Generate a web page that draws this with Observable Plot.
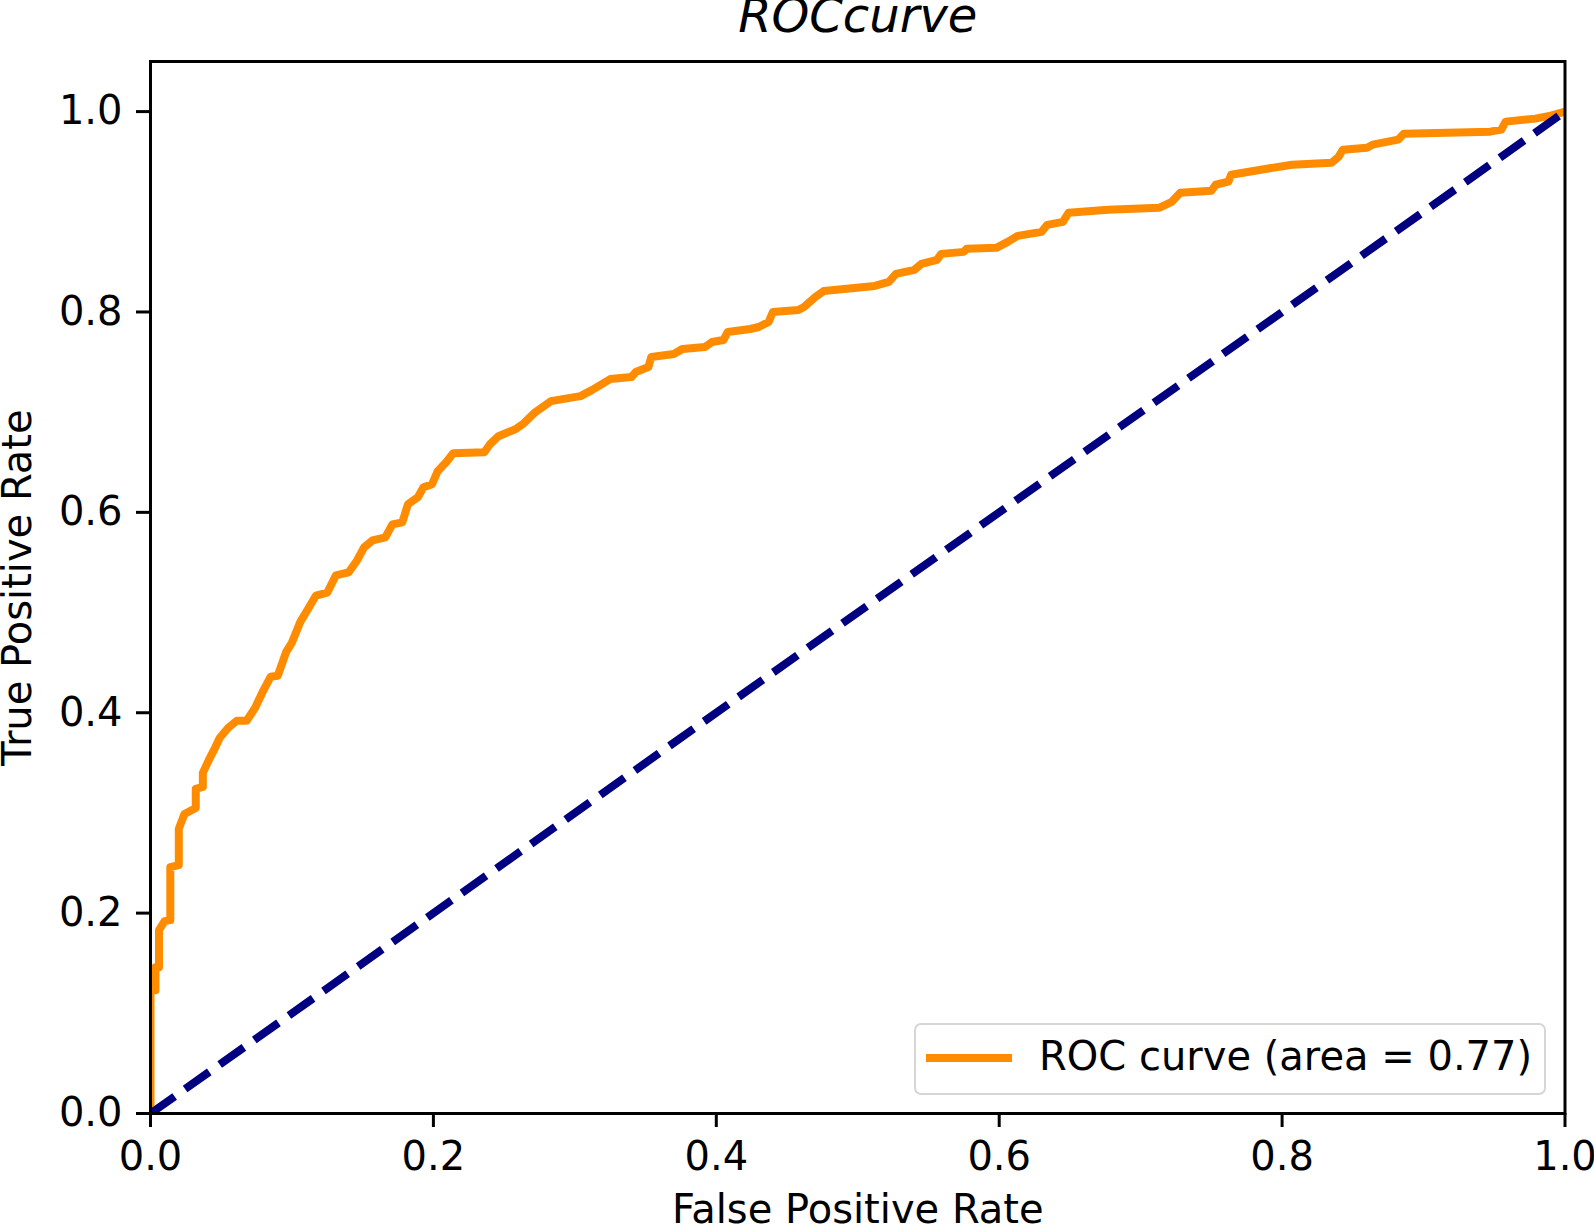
<!DOCTYPE html>
<html>
<head>
<meta charset="utf-8">
<script src="https://cdn.jsdelivr.net/npm/d3@7"></script>
<script src="https://cdn.jsdelivr.net/npm/@observablehq/plot@0.6"></script>
<style>
  html, body { margin: 0; padding: 0; background: #fff; }
  #wrap { position: relative; width: 1594px; height: 1226px; overflow: hidden; font-family: "DejaVu Sans", sans-serif; }
  #legend { position: absolute; left: 914px; top: 1023px; width: 628px; height: 68px; border: 2px solid #d6d6d6; border-radius: 7px; background: rgba(255,255,255,0.85); box-sizing: content-box; }
  #legend .sw { position: absolute; left: 10px; top: 29px; width: 86px; height: 8px; background: #ff8c00; }
  #legend .lb { position: absolute; left: 123px; top: -3px; height: 68px; line-height: 68px; font-size: 40px; color: #000; white-space: nowrap; }
</style>
</head>
<body>
<div id="wrap"></div>
<script>
// ROC curve points (false positive rate, true positive rate)
const fpr = [0, 0, 0.0035, 0.0035, 0.006, 0.006, 0.010, 0.014, 0.014, 0.020, 0.020, 0.024, 0.032, 0.032, 0.037, 0.037, 0.042, 0.046, 0.049, 0.055, 0.061, 0.068, 0.074, 0.079, 0.085, 0.090, 0.096, 0.100, 0.106, 0.112, 0.117, 0.125, 0.131, 0.140, 0.146, 0.151, 0.157, 0.166, 0.171, 0.178, 0.182, 0.189, 0.193, 0.199, 0.203, 0.209, 0.214, 0.236, 0.240, 0.246, 0.258, 0.264, 0.272, 0.283, 0.304, 0.312, 0.325, 0.340, 0.343, 0.352, 0.354, 0.370, 0.376, 0.392, 0.397, 0.405, 0.408, 0.424, 0.430, 0.437, 0.440, 0.458, 0.462, 0.470, 0.476, 0.512, 0.522, 0.527, 0.540, 0.545, 0.556, 0.559, 0.575, 0.577, 0.598, 0.606, 0.613, 0.630, 0.634, 0.645, 0.649, 0.677, 0.713, 0.722, 0.728, 0.750, 0.753, 0.762, 0.764, 0.785, 0.807, 0.835, 0.840, 0.843, 0.860, 0.864, 0.882, 0.886, 0.947, 0.955, 0.958, 0.979, 0.990, 1.0];
const tpr = [0, 0.123, 0.123, 0.146, 0.146, 0.183, 0.192, 0.193, 0.246, 0.248, 0.284, 0.299, 0.305, 0.324, 0.326, 0.340, 0.355, 0.366, 0.375, 0.385, 0.392, 0.392, 0.405, 0.420, 0.436, 0.437, 0.461, 0.470, 0.491, 0.505, 0.517, 0.520, 0.537, 0.540, 0.552, 0.565, 0.572, 0.575, 0.588, 0.590, 0.608, 0.615, 0.625, 0.628, 0.641, 0.650, 0.659, 0.660, 0.668, 0.676, 0.683, 0.689, 0.700, 0.711, 0.716, 0.722, 0.733, 0.735, 0.740, 0.745, 0.755, 0.758, 0.763, 0.765, 0.770, 0.772, 0.780, 0.783, 0.785, 0.790, 0.800, 0.802, 0.805, 0.815, 0.821, 0.826, 0.830, 0.838, 0.842, 0.848, 0.852, 0.858, 0.860, 0.863, 0.864, 0.870, 0.876, 0.880, 0.887, 0.890, 0.899, 0.902, 0.904, 0.910, 0.919, 0.921, 0.927, 0.930, 0.937, 0.942, 0.947, 0.949, 0.955, 0.962, 0.964, 0.967, 0.972, 0.978, 0.980, 0.982, 0.990, 0.993, 0.996, 1.0];
const diagonal = [0, 1];
const ticks = [0, 0.2, 0.4, 0.6, 0.8, 1.0];
const titleText = "ROCcurve";
const xLabel = "False Positive Rate";
const yLabel = "True Positive Rate";
const legendLabel = "ROC curve (area = 0.77)";

const roc = fpr.map((f, i) => ({x: f, y: tpr[i]}));
const diag = diagonal.map(v => ({x: v, y: v}));

const chart = Plot.plot({
  width: 1594,
  height: 1226,
  marginLeft: 150,
  marginRight: 29.5,
  marginTop: 61,
  marginBottom: 113,
  style: {fontFamily: "DejaVu Sans", fontSize: "40px", background: "#fff", color: "#000"},
  x: {domain: [0, 1]},
  y: {domain: [0, 1.05]},
  marks: [
    Plot.line(roc, {x: "x", y: "y", stroke: "#ff8c00", strokeWidth: 8, strokeLinejoin: "round", clip: true}),
    Plot.line(diag, {x: "x", y: "y", stroke: "#000080", strokeWidth: 8, strokeDasharray: "29.6,12.8", strokeLinecap: "butt", clip: true}),
    Plot.frame({stroke: "#000", strokeWidth: 3}),
    Plot.axisX({ticks: ticks, tickFormat: d3.format(".1f"), tickSize: 14, tickPadding: 14, strokeWidth: 3, fontSize: 40, label: null}),
    Plot.axisY({ticks: ticks, tickFormat: d3.format(".1f"), tickSize: 14, tickPadding: 14, strokeWidth: 3, fontSize: 40, label: null}),
    Plot.text([titleText], {frameAnchor: "top", lineAnchor: "middle", dy: -45, fontSize: 48, fontStyle: "italic", text: d => d}),
    Plot.text([xLabel], {frameAnchor: "bottom", lineAnchor: "middle", dy: 97, fontSize: 40, text: d => d}),
    Plot.text([yLabel], {frameAnchor: "left", textAnchor: "middle", lineAnchor: "middle", dx: -132, rotate: -90, fontSize: 40, text: d => d})
  ]
});

const wrap = document.getElementById("wrap");
wrap.appendChild(chart);
const legend = document.createElement("div");
legend.id = "legend";
const sw = document.createElement("div"); sw.className = "sw";
const lb = document.createElement("div"); lb.className = "lb"; lb.textContent = legendLabel;
legend.appendChild(sw); legend.appendChild(lb);
wrap.appendChild(legend);
</script>
</body>
</html>
